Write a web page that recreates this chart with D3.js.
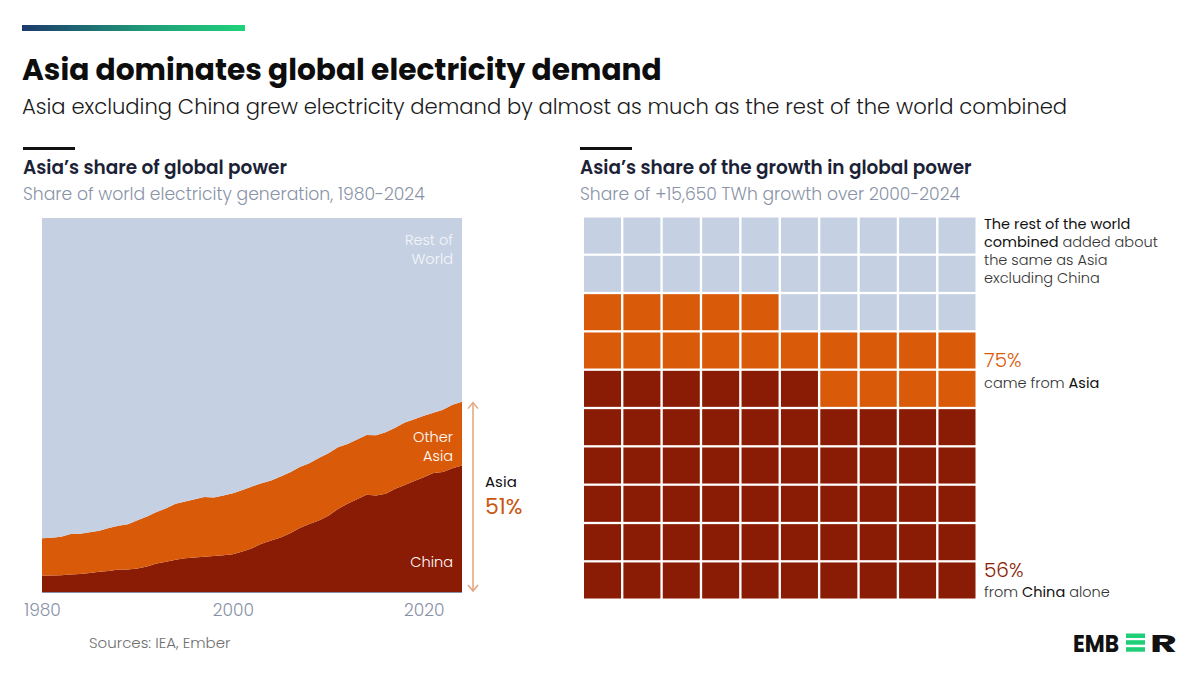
<!DOCTYPE html>
<html>
<head>
<meta charset="utf-8">
<script src="https://cdn.jsdelivr.net/npm/d3@7/dist/d3.min.js"></script>
<style>
  html, body { margin: 0; padding: 0; background: #ffffff; }
  svg { display: block; font-family: Poppins, Inter, "Open Sans", sans-serif; }
</style>
</head>
<body>
<svg id="chart" width="1200" height="675"></svg>
<script>
// ---------------- DATA ----------------
const years = [1980,1981,1982,1983,1984,1985,1986,1987,1988,1989,
               1990,1991,1992,1993,1994,1995,1996,1997,1998,1999,
               2000,2001,2002,2003,2004,2005,2006,2007,2008,2009,
               2010,2011,2012,2013,2014,2015,2016,2017,2018,2019,
               2020,2021,2022,2023,2024];
// share of world electricity generation (%)
const chinaShare = [4.4,4.4,4.5,4.7,4.8,5.1,5.4,5.6,6.0,6.0,
                    6.3,6.8,7.6,8.1,8.6,9.0,9.2,9.4,9.6,9.8,
                    10.1,10.8,11.7,12.9,13.8,14.6,15.7,17.1,18.2,19.1,
                    20.4,22.2,23.6,24.8,26.0,25.8,26.3,27.6,28.6,29.7,
                    30.7,31.8,32.1,33.1,33.8];
const otherAsiaShare = [10.0,10.1,10.3,10.8,10.8,10.9,11.0,11.5,11.7,12.1,
                        12.9,13.4,13.8,14.3,15.0,15.2,15.6,16.0,15.7,16.0,
                        16.3,16.5,16.5,16.2,16.0,16.3,16.3,16.3,16.2,16.7,
                        16.7,16.5,16.0,16.0,16.0,16.1,16.4,16.3,16.7,16.5,
                        16.4,16.1,16.6,17.0,17.1];
const xTicks = [1980, 2000, 2020];
const asiaLabel = "51%";

// waffle: share of +15,650 TWh growth 2000-2024 (cells out of 100)
const waffleCategories = ["China", "Other Asia", "Rest of world"];
const waffleCounts = [56, 19, 25];

// ---------------- STYLE ----------------
const C = {
  china: "#8a1b04",
  other: "#d95b0a",
  rest: "#c5d0e2",
  navy: "#1b2236",
  grey: "#8a93a7",
  arrow: "#e2a47e"
};

const svg = d3.select("#chart");

function fit(sel, w) {
  const len = sel.node().getComputedTextLength();
  const fs = parseFloat(sel.attr("font-size"));
  sel.attr("font-size", (fs * w / len).toFixed(2));
  return sel;
}

// ---------------- HEADER ----------------
const defs = svg.append("defs");
const grad = defs.append("linearGradient").attr("id", "topgrad");
grad.append("stop").attr("offset", "0%").attr("stop-color", "#1d3a6c");
grad.append("stop").attr("offset", "55%").attr("stop-color", "#1f9a78");
grad.append("stop").attr("offset", "100%").attr("stop-color", "#20d27b");
svg.append("rect").attr("x", 22).attr("y", 25).attr("width", 223).attr("height", 6).attr("fill", "url(#topgrad)");

fit(svg.append("text").attr("x", 22).attr("y", 80).attr("font-size", 30).attr("font-weight", 700)
  .attr("fill", "#0d0d0d").text("Asia dominates global electricity demand"), 640);
fit(svg.append("text").attr("x", 22).attr("y", 114).attr("font-size", 20).attr("font-weight", 300)
  .attr("fill", "#1a1a1a").text("Asia excluding China grew electricity demand by almost as much as the rest of the world combined"), 1045);

// section headers
function section(x, title, sub, wt, ws) {
  svg.append("rect").attr("x", x).attr("y", 147).attr("width", 52).attr("height", 3).attr("fill", "#111");
  fit(svg.append("text").attr("x", x).attr("y", 174).attr("font-size", 18).attr("font-weight", 600)
    .attr("fill", C.navy).text(title), wt);
  fit(svg.append("text").attr("x", x).attr("y", 200).attr("font-size", 17).attr("font-weight", 300)
    .attr("fill", C.grey).text(sub), ws);
}
section(23, "Asia\u2019s share of global power", "Share of world electricity generation, 1980-2024", 264, 402);
section(580, "Asia\u2019s share of the growth in global power", "Share of +15,650 TWh growth over 2000-2024", 392, 380);

// ---------------- AREA CHART ----------------
const data = years.map((y, i) => ({
  year: y,
  china: chinaShare[i],
  other: otherAsiaShare[i],
  rest: 100 - chinaShare[i] - otherAsiaShare[i]
}));
const x = d3.scaleLinear().domain([1980, 2024]).range([42, 462]);
const y = d3.scaleLinear().domain([0, 100]).range([592, 218]);
const stack = d3.stack().keys(["china", "other", "rest"])(data);
const area = d3.area().x(d => x(d.data.year)).y0(d => y(d[0])).y1(d => y(d[1]));
const fills = { china: C.china, other: C.other, rest: C.rest };
svg.append("g").selectAll("path").data(stack).join("path")
  .attr("d", area).attr("fill", d => fills[d.key]);

// baseline
svg.append("line").attr("x1", x(1980)).attr("x2", x(2024)).attr("y1", y(0) + 0.5).attr("y2", y(0) + 0.5)
  .attr("stroke", "#8790aa").attr("stroke-width", 1);

// x axis
const xAxis = svg.append("g").attr("transform", `translate(0,${y(0)})`)
  .call(d3.axisBottom(x).tickValues(xTicks).tickFormat(d3.format("d")).tickSize(0).tickPadding(10));
xAxis.select(".domain").remove();
xAxis.selectAll("text").attr("font-size", 17).attr("font-weight", 300).attr("fill", "#8891a6")
  .attr("font-family", "Poppins, Inter, sans-serif").attr("dy", "0.85em");

// in-chart labels
const lab = (t, yy, col) => svg.append("text").attr("x", 453).attr("y", yy).attr("text-anchor", "end")
  .attr("font-size", 14.5).attr("font-weight", 300).attr("fill", col).text(t);
lab("Rest of", 245, "#f4f6fa"); lab("World", 263.5, "#f4f6fa");
lab("Other", 442, "#fff"); lab("Asia", 460.5, "#fff");
lab("China", 567, "#fff");

// Asia arrow
const last = data[data.length - 1];
const ax = 473, yTop = y(last.china + last.other), yBot = y(0);
svg.append("line").attr("x1", ax).attr("x2", ax).attr("y1", yTop + 1).attr("y2", yBot - 1)
  .attr("stroke", C.arrow).attr("stroke-width", 1.5);
svg.append("path").attr("d", `M${ax - 5},${yTop + 7}L${ax},${yTop + 1}L${ax + 5},${yTop + 7}`)
  .attr("fill", "none").attr("stroke", C.arrow).attr("stroke-width", 1.5);
svg.append("path").attr("d", `M${ax - 5},${yBot - 7}L${ax},${yBot - 1}L${ax + 5},${yBot - 7}`)
  .attr("fill", "none").attr("stroke", C.arrow).attr("stroke-width", 1.5);
svg.append("text").attr("x", 485).attr("y", 487).attr("font-size", 15).attr("font-weight", 400)
  .attr("fill", "#111").text("Asia");
svg.append("text").attr("x", 485).attr("y", 514).attr("font-size", 22).attr("font-weight", 400)
  .attr("fill", "#c9560f").text(asiaLabel);

// ---------------- WAFFLE ----------------
const cells = [];
waffleCounts.forEach((n, k) => { for (let j = 0; j < n; j++) cells.push(waffleCategories[k]); });
const col = d3.scaleBand().domain(d3.range(10)).range([584, 975.5]).paddingInner(0.06);
const row = d3.scaleBand().domain(d3.range(10)).range([217.5, 598.5]).paddingInner(0.06);
const wColor = d3.scaleOrdinal().domain(waffleCategories).range([C.china, C.other, C.rest]);
svg.append("g").selectAll("rect").data(cells).join("rect")
  .attr("x", (d, i) => col(i % 10))
  .attr("y", (d, i) => row(9 - Math.floor(i / 10)))
  .attr("width", col.bandwidth()).attr("height", row.bandwidth())
  .attr("fill", d => wColor(d));

// annotations right
function rich(xx, yy, parts, size) {
  const t = svg.append("text").attr("x", xx).attr("y", yy).attr("font-size", size || 14.5);
  parts.forEach(p => t.append("tspan").attr("font-weight", p[1]).attr("fill", p[2] || (p[1] >= 400 ? "#111" : "#333")).text(p[0]));
  return t;
}
rich(984, 229, [["The rest of the world", 400]]);
rich(984, 247, [["combined", 400], [" added about", 300]]);
rich(984, 265, [["the same as Asia", 300]]);
rich(984, 283, [["excluding China", 300]]);
svg.append("text").attr("x", 984).attr("y", 367).attr("font-size", 20).attr("font-weight", 300)
  .attr("fill", C.other).text(Math.round((waffleCounts[0] + waffleCounts[1])) + "%");
rich(984, 388, [["came from ", 300], ["Asia", 400]]);
svg.append("text").attr("x", 984).attr("y", 577).attr("font-size", 20).attr("font-weight", 300)
  .attr("fill", C.china).text(waffleCounts[0] + "%");
rich(984, 597, [["from ", 300], ["China", 400], [" alone", 300]]);

// ---------------- FOOTER ----------------
svg.append("text").attr("x", 89).attr("y", 648).attr("font-size", 15).attr("font-weight", 300)
  .attr("fill", "#6f6f6f").text("Sources: IEA, Ember");

// EMBER logo
const logo = svg.append("g");
logo.append("text").attr("x", 1073).attr("y", 652).attr("font-size", 25).attr("font-weight", 700)
  .attr("fill", "#111").attr("textLength", 46).attr("lengthAdjust", "spacingAndGlyphs").text("EMB");
[633.5, 640.2, 647.2].forEach(yy => logo.append("rect").attr("x", 1126).attr("y", yy).attr("width", 19).attr("height", 4.5).attr("fill", "#1fcf78"));
logo.append("text").attr("x", 1150).attr("y", 652).attr("font-size", 25).attr("font-weight", 700)
  .attr("fill", "#111").attr("textLength", 27).attr("lengthAdjust", "spacingAndGlyphs").text("R");
</script>
</body>
</html>
